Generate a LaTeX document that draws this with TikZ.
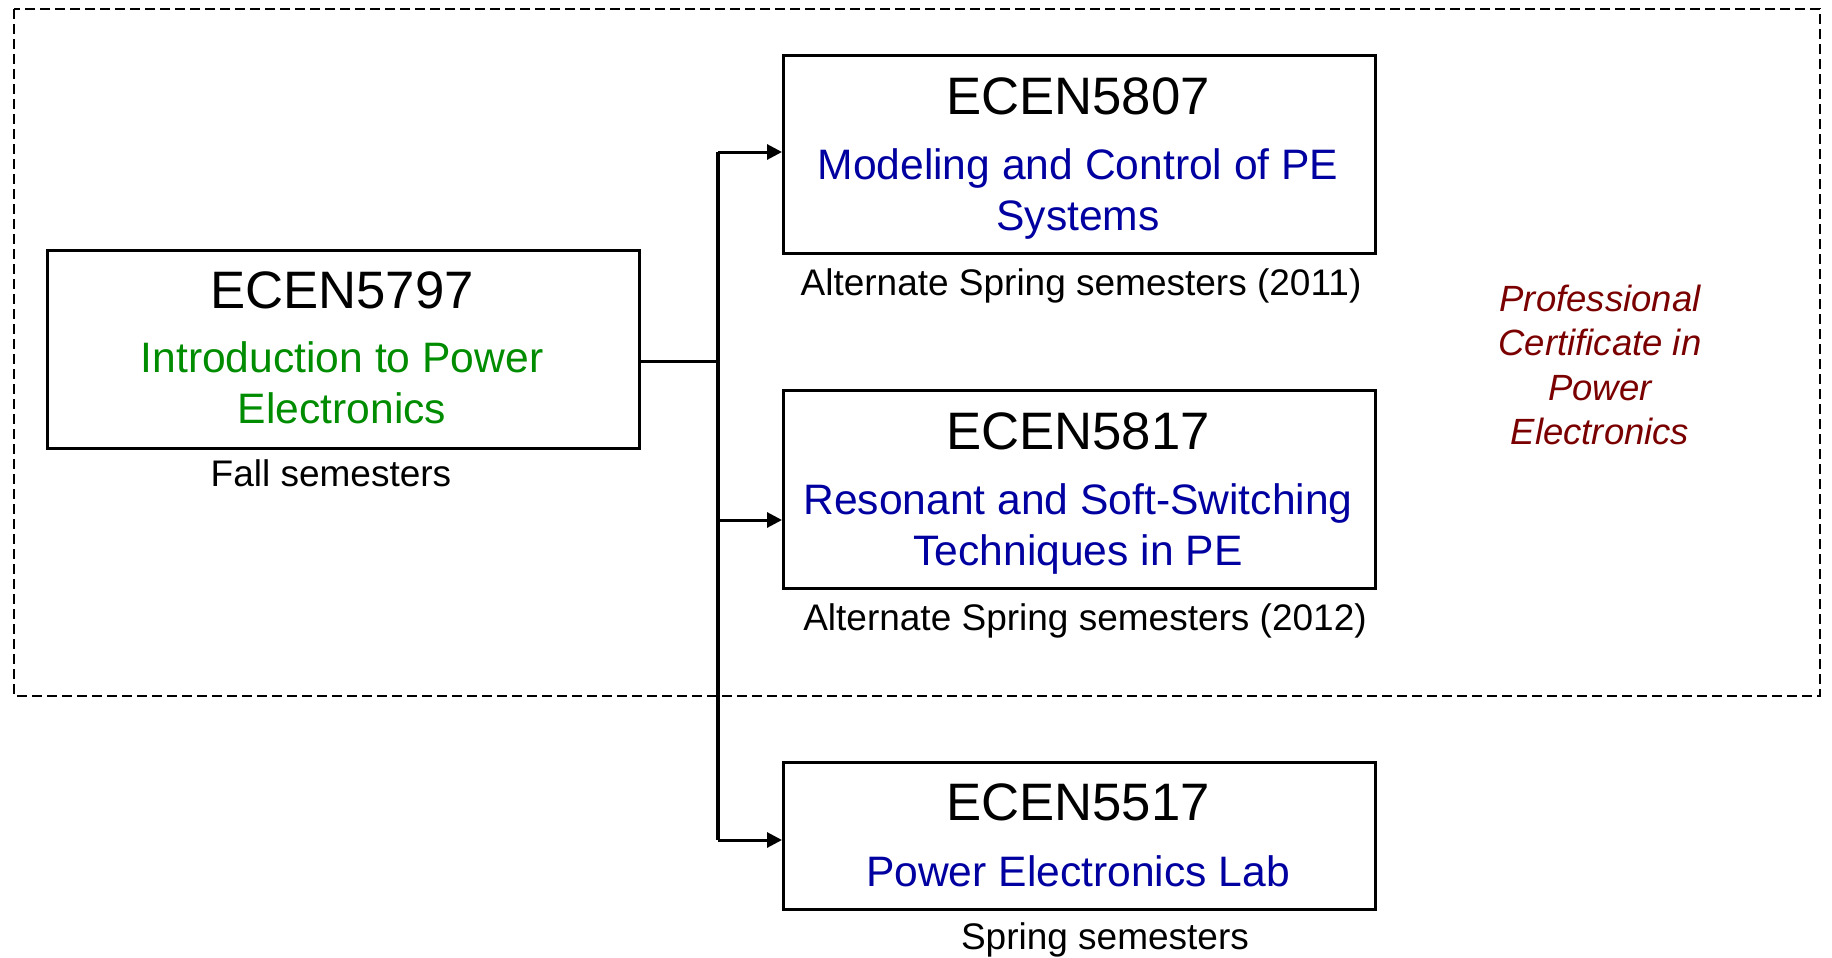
\documentclass[tikz,border=0pt]{standalone}
\usepackage{fontspec}
\setmainfont{Liberation Sans}
\usetikzlibrary{arrows.meta}
\definecolor{cgreen}{RGB}{0,140,0}
\definecolor{cblue}{RGB}{0,0,160}
\definecolor{cred}{RGB}{122,0,0}
\begin{document}
\begin{tikzpicture}[x=1pt,y=-1pt,
  course/.style={draw,line width=3pt,minimum width=592pt,minimum height=198pt,inner sep=0pt,anchor=north west},
  ttl/.style={anchor=base,inner sep=0pt,font=\fontsize{52.7}{62}\selectfont},
  sub/.style={anchor=base,inner sep=0pt,font=\fontsize{42.6}{50}\selectfont,text=cblue},
  lbl/.style={anchor=base,inner sep=0pt,font=\fontsize{37}{44}\selectfont},
  cert/.style={anchor=base,inner sep=0pt,font=\fontsize{36.5}{43}\selectfont\itshape,text=cred},
  conn/.style={line width=3pt},
  arr/.style={conn,-{Triangle[length=15pt,width=15pt]}}]
\useasboundingbox (0,0) rectangle (1832,958);
% certificate region
\draw[line width=2.5pt,dash pattern=on 10pt off 5pt] (14,9) rectangle (1820,696);
% boxes
\node[course] (b1) at (46,249) {};
\node[course] (b2) at (782,54) {};
\node[course] (b3) at (782,389) {};
\node[course,minimum height=147pt] (b4) at (782,761) {};
% texts
\node[ttl] (t1) at (342,308.5) {ECEN5797};
\node[sub,text=cgreen] (s1a) at (342,372.5) {Introduction to Power};
\node[sub,text=cgreen] (s1b) at (342,423.5) {Electronics};
\node[lbl] (l1) at (331,486) {Fall semesters};
\node[ttl] (t2) at (1078,114.5) {ECEN5807};
\node[sub] (s2a) at (1078,179.5) {Modeling and Control of PE};
\node[sub] (s2b) at (1078,230.5) {Systems};
\node[lbl] (l2) at (1081,295) {Alternate Spring semesters (2011)};
\node[ttl] (t3) at (1078,449.5) {ECEN5817};
\node[sub] (s3a) at (1078,514.5) {Resonant and Soft-Switching};
\node[sub] (s3b) at (1078,565.5) {Techniques in PE};
\node[lbl] (l3) at (1085,630) {Alternate Spring semesters (2012)};
\node[ttl] (t4) at (1078,820.5) {ECEN5517};
\node[sub] (s4a) at (1078,886.5) {Power Electronics Lab};
\node[lbl] (l4) at (1105,949) {Spring semesters};
\node[cert] (c1) at (1600,311) {Professional};
\node[cert] (c2) at (1600,355) {Certificate in};
\node[cert] (c3) at (1600,400) {Power};
\node[cert] (c4) at (1600,444) {Electronics};
% connectors
\coordinate (j) at (718,361);
\coordinate (jt) at (718,152);
\coordinate (jm) at (718,520);
\coordinate (jb) at (718,840);
\draw[conn] (b1.east |- j) -- (j);
\draw[line width=3.5pt] (jt) -- (jb);
\draw[arr] (jt) -- (jt -| b2.west);
\draw[arr] (jm) -- (jm -| b3.west);
\draw[arr] (jb) -- (jb -| b4.west);
\end{tikzpicture}
\end{document}
